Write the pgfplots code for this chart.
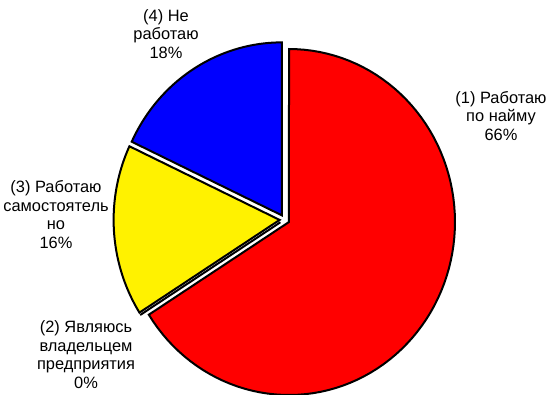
\documentclass[border=0pt]{standalone}
\usepackage{fontspec}
\setmainfont{Liberation Sans}
\usepackage{pgfplots}
\usepackage{pgfplotstable}
\pgfplotsset{compat=1.18}
\pgfplotstableread{
id value
1 66
2 0
3 16
4 18
}\piedata

\newcommand{\pieslice}[3]{%
  \pgfmathsetmacro\pmid{(#1+#2)/2}%
  \pgfmathsetmacro\pax{\cx+\dd*cos(\pmid)}%
  \pgfmathsetmacro\pay{\cy+\dd*sin(\pmid)}%
  \pgfmathsetmacro\pst{(#2-#1)/90}%
  \pgfmathsetmacro\plo{#1-\pst}%
  \pgfmathsetmacro\phiA{#2+\pst}%
  \pgfmathsetmacro\tlo{#1-\pst/2}%
  \pgfmathsetmacro\thi{#2+\pst/2}%
  \edef\doplot{\noexpand\addplot[fill=#3, draw=black, line width=1.5pt, line join=miter, domain=\plo:\phiA, samples=93, variable=\noexpand\t]
   ({\pax + (((\noexpand\t<\tlo) || (\noexpand\t>\thi)) ? 0 : \rx*cos(\noexpand\t))},
    {\pay + (((\noexpand\t<\tlo) || (\noexpand\t>\thi)) ? 0 : \ry*sin(\noexpand\t))}) -- cycle;}%
  \doplot
}
\newcommand{\lines}[1]{\begin{tabular}{@{}c@{}}#1\end{tabular}}

\begin{document}
\begin{tikzpicture}
\pgfplotstablegetelem{0}{value}\of\piedata \let\vA\pgfplotsretval
\pgfplotstablegetelem{1}{value}\of\piedata \let\vB\pgfplotsretval
\pgfplotstablegetelem{2}{value}\of\piedata \let\vC\pgfplotsretval
\pgfplotstablegetelem{3}{value}\of\piedata \let\vD\pgfplotsretval
\pgfmathsetmacro\aA{90}
\pgfmathsetmacro\aB{\aA-3.6*\vA}
\pgfmathsetmacro\aC{\aB-3.6*\vB}
\pgfmathsetmacro\aD{\aC-3.6*\vC}
\pgfmathsetmacro\aE{\aD-3.6*\vD}
\def\cx{284.6}\def\cy{174.4}\def\rx{166}\def\ry{173}\def\dd{5}
\begin{axis}[
  x=0.75pt, y=0.75pt,
  xmin=0, xmax=547, ymin=0, ymax=394,
  hide axis, clip=false,
]
\pieslice{\aB}{\aA}{red}
% zero slice (2)
\pgfmathsetmacro\zax{\cx+\dd*cos(\aB)}
\pgfmathsetmacro\zay{\cy+\dd*sin(\aB)}
\pgfmathsetmacro\zbx{\zax+\rx*cos(\aB)}
\pgfmathsetmacro\zby{\zay+\ry*sin(\aB)}
\edef\dozero{\noexpand\addplot[black, line width=1.5pt] coordinates {(\zax,\zay) (\zbx,\zby)};}
\dozero
\pieslice{\aD}{\aC}{yellow}
\pieslice{\aE}{\aD}{blue}
\tikzset{lbl/.style={inner sep=0pt, font=\fontsize{12.3}{13.9}\selectfont}}
\node[lbl] at (axis cs:501,276) {\lines{(1) Работаю\\по найму\\\vA\%}};
\node[lbl] at (axis cs:86,37) {\lines{(2) Являюсь\\владельцем\\предприятия\\\vB\%}};
\node[lbl] at (axis cs:56,177) {\lines{(3) Работаю\\самостоятель\\но\\\vC\%}};
\node[lbl] at (axis cs:166,358) {\lines{(4) Не\\работаю\\\vD\%}};
\end{axis}
\pgfresetboundingbox
\useasboundingbox (current axis.south west) rectangle (current axis.north east);
\end{tikzpicture}
\end{document}
